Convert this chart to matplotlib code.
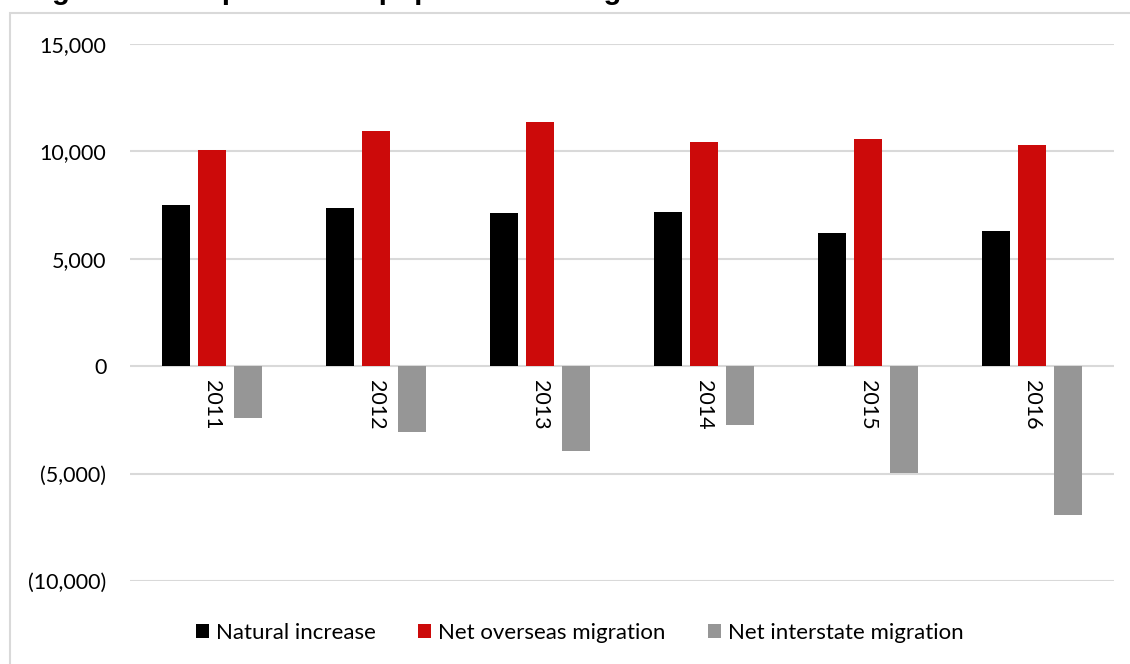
import matplotlib.pyplot as plt
import matplotlib.patches as mpatches
import numpy as np

# Data
years = ["2011", "2012", "2013", "2014", "2015", "2016"]
natural_increase = [7500, 7360, 7130, 7170, 6200, 6290]
net_overseas = [10060, 10940, 11360, 10430, 10570, 10290]
net_interstate = [-2420, -3070, -3960, -2750, -4990, -6940]

series_names = ["Natural increase", "Net overseas migration", "Net interstate migration"]
colors = ["#000000", "#cc0a0a", "#969696"]

plt.rcParams["font.family"] = ["Lato", "DejaVu Sans"]

fig = plt.figure(figsize=(11.3, 6.64), dpi=100)
ax = fig.add_axes([130 / 1130, 1 - 581 / 664, 984 / 1130, 537 / 664])

# Outer frame (only top and left edges visible in the reference)
top = 1 - 13 / 664
frame = mpatches.Rectangle((10 / 1130, -0.1), 1.2, top + 0.1,
                           transform=fig.transFigure, fill=False,
                           edgecolor="#d9d9d9", linewidth=1.5, zorder=0)
fig.patches.append(frame)

# Title, cut off at the top edge as in the reference
fig.text(26 / 1130, 1 + 1 / 664,
         "Figure 3: Components of population change \u2013 South Australia",
         family="Liberation Sans", fontweight="bold", fontsize=21,
         va="baseline", ha="left")

x = np.arange(len(years))
width = 28 / 164
step = 36 / 164
for i, (vals, name, col) in enumerate(zip([natural_increase, net_overseas, net_interstate],
                                          series_names, colors)):
    ax.bar(x + (i - 1) * step, vals, width, color=col, label=name, zorder=3)

ax.set_xlim(-0.5, len(years) - 0.5)
ax.set_ylim(-10000, 15000)
ticks = [15000, 10000, 5000, 0, -5000, -10000]
ax.set_yticks(ticks)
ax.set_yticklabels([f"{t:,}" if t >= 0 else f"({-t:,})" for t in ticks], fontsize=15.5)
ax.tick_params(axis="y", length=0, pad=17)
ax.set_xticks([])
ax.yaxis.grid(True, color="#d9d9d9", linewidth=1.5, zorder=0)
for s in ax.spines.values():
    s.set_visible(False)

# Category labels sit just below the zero line, rotated
for xi, yr in zip(x, years):
    ax.text(xi, -650, yr, rotation=-90, ha="center", va="top", fontsize=15.5)

fig.legend(loc="center", bbox_to_anchor=(0.513, 1 - 633 / 664), ncol=3,
           frameon=False, fontsize=16, handlelength=0.6, handleheight=0.6,
           handletextpad=0.3, columnspacing=1.9)

fig.savefig("out.png", dpi=100)
